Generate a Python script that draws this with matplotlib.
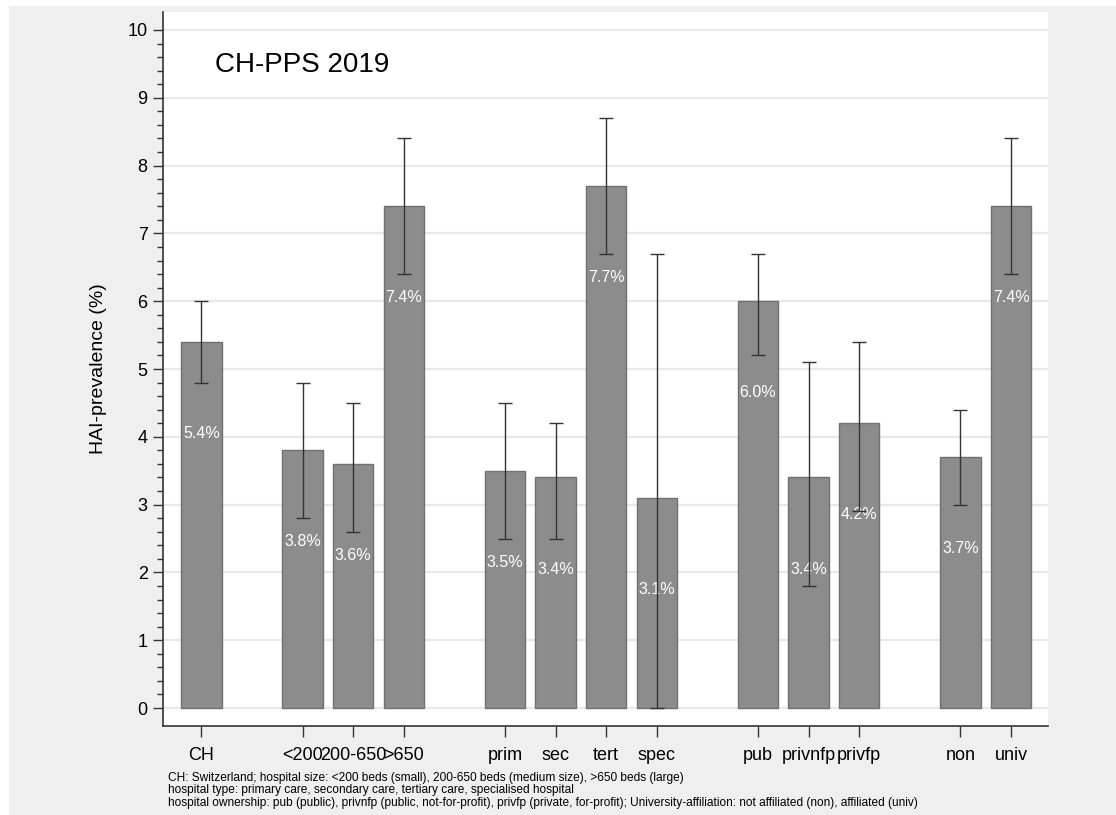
import matplotlib.pyplot as plt
from matplotlib.patches import Rectangle
from matplotlib.ticker import FixedLocator
import numpy as np

plt.rcParams['font.family'] = ['Liberation Sans', 'DejaVu Sans']

# groups of categories (one empty slot between groups)
groups = [
    ['CH'],
    ['<200', '200-650', '>650'],
    ['prim', 'sec', 'tert', 'spec'],
    ['pub', 'privnfp', 'privfp'],
    ['non', 'univ'],
]
prevalence = [5.4, 3.8, 3.6, 7.4, 3.5, 3.4, 7.7, 3.1, 6.0, 3.4, 4.2, 3.7, 7.4]
ci_low = [4.8, 2.8, 2.6, 6.4, 2.5, 2.5, 6.7, 0.0, 5.2, 1.8, 2.9, 3.0, 6.4]
ci_high = [6.0, 4.8, 4.5, 8.4, 4.5, 4.2, 8.7, 6.7, 6.7, 5.1, 5.4, 4.4, 8.4]

footnotes = [
    "CH: Switzerland; hospital size: <200 beds (small), 200-650 beds (medium size), >650 beds (large)",
    "hospital type: primary care, secondary care, tertiary care, specialised hospital",
    "hospital ownership: pub (public), privnfp (public, not-for-profit), privfp (private, for-profit); "
    "University-affiliation: not affiliated (non), affiliated (univ)",
]

# x positions
labels = []
xpos = []
slot = 0
for g in groups:
    for c in g:
        labels.append(c)
        xpos.append(slot)
        slot += 1
    slot += 1
xpos = np.array(xpos)
vals = np.array(prevalence)
lo = np.array(ci_low)
hi = np.array(ci_high)

fig = plt.figure(figsize=(11.16, 8.15), dpi=100, facecolor='white')
fig.patches.append(Rectangle((9 / 1116, 0), 1, 1 - 6 / 815, transform=fig.transFigure,
                             facecolor='#efefef', edgecolor='none', zorder=-10))

ax = fig.add_axes([163 / 1116, 1 - 726 / 815, (1048 - 163) / 1116, (726 - 12) / 815])
ax.set_facecolor('white')
ax.set_axisbelow(True)

ax.bar(xpos, vals, width=0.8, color='#8c8c8c', edgecolor='#707070', linewidth=1, zorder=2)
for x, v in zip(xpos, vals):
    ax.text(x, v - 1.35, f'{v:.1f}%', color='white', ha='center', va='center',
            fontsize=11.5, zorder=3)
ax.errorbar(xpos, vals, yerr=[vals - lo, hi - vals], fmt='none', ecolor='#333333',
            elinewidth=1, capsize=4.7, capthick=1, zorder=4)

ax.set_xlim(-0.757, 16.73)
ax.set_ylim(-0.265, 10.265)
ax.set_yticks(range(0, 11))
ax.yaxis.set_minor_locator(FixedLocator([i * 0.2 for i in range(51) if i % 5 != 0]))
ax.set_xticks(xpos)
ax.set_xticklabels(labels)
ax.tick_params(axis='y', which='major', length=7, width=1, pad=4, labelsize=13, color='#333333')
ax.tick_params(axis='y', which='minor', length=4, width=1, color='#333333')
ax.tick_params(axis='x', length=8, width=1, pad=7, labelsize=13, color='#333333')
ax.grid(axis='y', color='#e8e8e8', linewidth=1.6)

for s in ['top', 'right']:
    ax.spines[s].set_visible(False)
for s in ['left', 'bottom']:
    ax.spines[s].set_color('#333333')
    ax.spines[s].set_linewidth(1.2)

ax.set_ylabel('HAI-prevalence (%)', fontsize=14)
ax.yaxis.set_label_coords(-(163 - 107) / 885, 0.5)

ax.text(0.27, 9.48, 'CH-PPS 2019', fontsize=20, ha='left', va='center')

for i, line in enumerate(footnotes):
    fig.text(168 / 1116, 1 - (778 + 12.5 * i) / 815, line, fontsize=8.6, ha='left', va='center')

fig.savefig('out.png', dpi=100, facecolor=fig.get_facecolor())
